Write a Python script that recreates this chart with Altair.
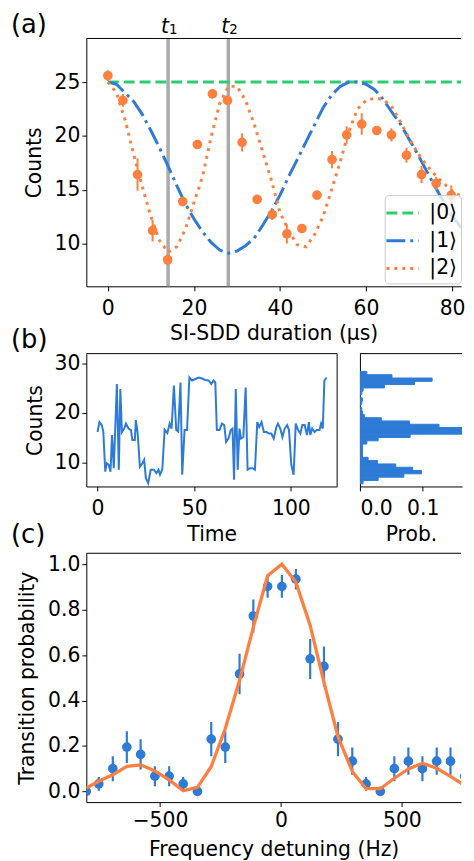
import altair as alt
import pandas as pd

FONT = "DejaVu Sans"
FS = 20.5
LFS = 26
BLUE = "#2d7bd6"
ORANGE = "#ff7f3f"
GREEN = "#2ecc71"
GRAY = "#aaaaaa"

# ---------------- panel (a) data ----------------
states = ["|0⟩", "|1⟩", "|2⟩"]
fit_t = [0, 2, 4, 6, 8, 10, 12, 14, 16, 18, 20, 22, 24, 26, 28, 30, 32, 34, 36, 38, 40, 42,
         44, 46, 48, 50, 52, 54, 56, 58, 60, 62, 64, 66, 68, 70, 72, 74, 76, 78, 80, 82, 84, 86]
fit_s0 = [25.0] * len(fit_t)
fit_s1 = [25.0, 24.8, 24.0, 23.2, 22.0, 20.5, 18.9, 17.2, 15.4, 13.7, 12.3, 11.1, 10.1, 9.4, 9.1,
          9.3, 9.8, 10.5, 11.7, 13.0, 14.5, 16.2, 17.8, 19.4, 21.0, 22.6, 23.8, 24.6, 25.0, 25.0,
          24.8, 24.3, 23.4, 22.2, 21.1, 19.7, 18.3, 16.8, 15.3, 13.9, 12.6, 11.5, 10.5, 9.8]
fit_s2 = [25.0, 24.0, 21.5, 18.3, 15.3, 12.5, 10.3, 9.2, 9.7, 11.3, 13.8, 16.2, 19.9, 23.0, 24.6,
          24.6, 23.3, 21.1, 18.5, 15.9, 12.9, 11.2, 9.9, 9.7, 10.8, 12.5, 15.0, 17.6, 20.4, 22.5,
          23.3, 23.5, 23.4, 22.7, 21.3, 19.8, 18.4, 17.3, 16.4, 15.6, 14.9, 14.4, 13.9, 13.3]
meas_t = [0.0, 3.5, 6.9, 10.4, 13.9, 17.4, 20.8, 24.3, 27.8, 31.2, 34.7, 38.2, 41.6, 45.1, 48.6,
          52.1, 55.5, 59.0, 62.5, 65.9, 69.4, 72.9, 76.3, 79.8, 83.3]
meas_y = [25.6, 23.3, 16.4, 11.2, 8.5, 13.9, 19.2, 23.9, 23.3, 19.4, 14.1, 12.7, 10.9, 11.4, 14.5,
          17.8, 20.1, 21.1, 20.5, 20.1, 18.2, 16.4, 15.6, 14.5, 14.8]
meas_err = [0.5, 0.6, 1.5, 1.0, 0.5, 0.4, 0.3, 0.3, 0.3, 0.85, 0.3, 0.5, 0.9, 0.3, 0.3,
            0.8, 0.8, 1.0, 0.3, 0.6, 0.7, 0.8, 0.6, 0.9, 0.7]
pulse_t = [14, 28]
pulse_sym = ["t", "t"]
pulse_sub = ["1", "2"]

# ---------------- panel (b) data ----------------
trace_t = [0, 1, 2.2, 3, 4, 4.8, 5.8, 6.7, 7.5, 8.4, 10, 11, 11.8, 12.6, 13.8, 14.7, 16, 17.3, 18,
           19.3, 19.8, 20.7, 21.9, 23.2, 24.1, 25, 26.2, 27.5, 29.2, 30.4, 31.5, 32.3, 33.5, 34.7,
           36.1, 37.3, 38.3, 39.5, 40.7, 41.7, 42.9, 43.8, 45, 46.3, 47.5, 48.9, 50.6, 52.3, 54,
           55.7, 57.4, 58.8, 60, 60.9, 61.7, 63.1, 64.3, 65.5, 66.5, 67.7, 68.9, 69.8, 70.6, 71.5,
           72.5, 73.4, 74.2, 75.4, 76.6, 77.6, 78.8, 80.1, 81.4, 82.6, 83.6, 84.8, 86, 87.4, 88.7,
           89.9, 91.1, 92.5, 93.3, 94.5, 95.6, 96.8, 98, 99, 100.2, 101.4, 102.5, 103.7, 104.9,
           105.9, 107.1, 108.3, 109.3, 110, 111, 112.2, 113.4, 114.8, 115.6, 116.5, 117.3, 118.5]
trace_c = [16.1, 18.1, 17.5, 16.1, 8.1, 9.8, 9.5, 8.1, 15.5, 8.8, 25.8, 8.5, 24.8, 16.1, 16.8, 17.8,
           16.8, 16.5, 14.5, 14.5, 18.5, 16.1, 9.1, 9.8, 10.5, 6.8, 5.8, 8.5, 8.5, 7.8, 8.5, 7.5,
           8.6, 16.6, 15.9, 17.8, 16.8, 25.5, 16.5, 16.2, 26.1, 7.5, 16.5, 16.5, 27.1, 26.5, 26.8,
           27.1, 26.9, 26.6, 26.5, 25.8, 26.5, 26.1, 16.5, 16.5, 17.8, 17.5, 14.1, 14.8, 16.5, 16.8,
           6.5, 24.8, 8.5, 16.8, 14.8, 15.1, 25.1, 8.5, 8.8, 8.8, 8.5, 18.1, 17.1, 18.1, 16.1, 16.1,
           15.8, 15.8, 14.8, 17.1, 17.8, 16.8, 15.1, 16.8, 17.5, 16.5, 9.5, 7.5, 17.8, 16.5, 15.8,
           17.5, 17.5, 15.5, 18.1, 15.5, 16.8, 16.1, 16.5, 16.5, 17.8, 16.8, 26.5, 27.1]
hist_lo = [5.67, 6.33, 7.0, 7.67, 8.33, 9.0, 9.67, 10.33, 11.0, 11.67, 12.33, 13.0, 13.67, 14.33,
           15.0, 15.67, 16.33, 17.0, 17.67, 18.33, 19.0, 19.67, 20.33, 21.0, 21.67, 22.33, 23.0,
           23.67, 24.33, 25.0, 25.67, 26.33, 27.0, 27.67]
hist_p = [0.005, 0.029, 0.070, 0.098, 0.084, 0.057, 0.028, 0.013, 0.004, 0.004, 0.004, 0.004,
          0.011, 0.029, 0.080, 0.168, 0.172, 0.126, 0.079, 0.034, 0.007, 0.004, 0.003, 0.0, 0.003,
          0.004, 0.0, 0.003, 0.005, 0.039, 0.087, 0.115, 0.051, 0.011]
hist_w = 0.667

# ---------------- panel (c) data ----------------
det_hz = [-805, -753, -695, -637, -580, -521, -462, -404, -345, -288, -230, -171, -114, -55, 4, 62,
          121, 178, 236, 295, 352, 411, 469, 527, 585, 644, 701, 760]
det_p = [0.0, 0.033, 0.1, 0.195, 0.163, 0.067, 0.067, 0.033, 0.0, 0.23, 0.195, 0.517, 0.772, 0.902,
         0.902, 0.934, 0.583, 0.55, 0.23, 0.133, 0.033, 0.0, 0.1, 0.133, 0.1, 0.133, 0.133, 0.067]
det_err = [0.0, 0.03, 0.055, 0.07, 0.067, 0.044, 0.044, 0.03, 0.0, 0.075, 0.07, 0.089, 0.073, 0.05,
           0.05, 0.045, 0.088, 0.088, 0.075, 0.06, 0.03, 0.0, 0.055, 0.06, 0.055, 0.06, 0.06, 0.044]
model_hz = det_hz + [818]
model_p = [0.015, 0.045, 0.073, 0.11, 0.117, 0.09, 0.051, 0.003, 0.018, 0.11, 0.277, 0.489, 0.723,
           0.949, 1.0, 0.92, 0.73, 0.48, 0.241, 0.088, 0.012, 0.012, 0.058, 0.099, 0.124, 0.102,
           0.066, 0.026, 0.0]

# ---------------- frames ----------------
fit_df = pd.DataFrame({
    "t": fit_t * 3,
    "y": fit_s0 + fit_s1 + fit_s2,
    "state": [states[0]] * len(fit_t) + [states[1]] * len(fit_t) + [states[2]] * len(fit_t),
})
meas_df = pd.DataFrame({"t": meas_t, "y": meas_y,
                        "lo": [v - e for v, e in zip(meas_y, meas_err)],
                        "hi": [v + e for v, e in zip(meas_y, meas_err)]})
pulse_df = pd.DataFrame({"t": pulse_t, "sym": pulse_sym, "sub": pulse_sub})
trace_df = pd.DataFrame({"t": trace_t, "c": trace_c})
hist_df = pd.DataFrame({"lo": hist_lo, "hi": [v + hist_w for v in hist_lo], "p": hist_p,
                        "p0": [0.0] * len(hist_p)})
det_df = pd.DataFrame({"f": det_hz, "p": det_p,
                       "lo": [v - e for v, e in zip(det_p, det_err)],
                       "hi": [v + e for v, e in zip(det_p, det_err)]})
model_df = pd.DataFrame({"f": model_hz, "p": model_p})
one = pd.DataFrame({"k": [0]})

# plot areas (the page is 474 px wide with 8 px margins, so panels stop at x = 466)
AW, AH = 378, 250
B1W, B2W, BH = 253, 103, 134
CW, CH = 378, 251
YLP = 2
LABEL_X = -76


def top_border(w):
    return alt.Chart(one).mark_rule(color="black", strokeWidth=1).encode(
        x=alt.value(0), x2=alt.value(w), y=alt.value(0))


def panel_label(txt, dy):
    return alt.Chart(one).mark_text(text=txt, font=FONT, fontSize=LFS, align="left",
                                    baseline="alphabetic", color="black").encode(
        x=alt.value(LABEL_X), y=alt.value(dy))


# ---------------- panel (a) ----------------
xa_scale = alt.Scale(domain=[-5, -5 + AW / 4.341], nice=False, zero=False)
ya_scale = alt.Scale(domain=[6.03, 29.05], nice=False, zero=False)
xa_axis = alt.Axis(values=[0, 20, 40, 60, 80], title="SI-SDD duration (µs)", titleY=53.3,
                   titleBaseline="alphabetic", labelPadding=7.5)
ya_axis = alt.Axis(values=[10, 15, 20, 25], title="Counts", titleX=-46.5,
                   titleBaseline="alphabetic", labelPadding=YLP)


def XA(f="t"):
    return alt.X(f + ":Q", scale=xa_scale, axis=xa_axis)


def YA(f="y"):
    return alt.Y(f + ":Q", scale=ya_scale, axis=ya_axis)


legend_a = alt.Legend(orient="none", legendX=301, legendY=158, title=None, labelFont=FONT,
                      labelFontSize=FS, labelColor="black", symbolType="M-1.3,0L1.3,0",
                      symbolSize=625, symbolStrokeWidth=3, padding=4, rowPadding=3,
                      labelOffset=13, strokeColor="#cccccc",
                      fillColor="rgba(255,255,255,0.8)", cornerRadius=4)

pulses = alt.Chart(pulse_df).mark_rule(color=GRAY, strokeWidth=3.5).encode(x=XA())
pulse_t_txt = alt.Chart(pulse_df).mark_text(font=FONT, fontSize=FS, fontStyle="italic",
                                            align="right", baseline="alphabetic", dx=1,
                                            color="black").encode(
    x=XA(), y=alt.value(-6), text="sym:N")
pulse_sub_txt = alt.Chart(pulse_df).mark_text(font=FONT, fontSize=13.5, align="left",
                                              baseline="alphabetic", dx=1,
                                              color="black").encode(
    x=XA(), y=alt.value(-4.5), text="sub:N")
fits = alt.Chart(fit_df).mark_line(strokeWidth=3, clip=True).encode(
    x=XA(), y=YA(),
    color=alt.Color("state:N", scale=alt.Scale(domain=states, range=[GREEN, BLUE, ORANGE]),
                    legend=legend_a),
    strokeDash=alt.StrokeDash("state:N",
                              scale=alt.Scale(domain=states,
                                              range=[[11, 5], [19, 5, 3, 5], [3, 5]]),
                              legend=legend_a),
)
a_err = alt.Chart(meas_df).mark_rule(color=ORANGE, strokeWidth=2, clip=True).encode(
    x=XA(), y=YA("lo"), y2="hi")
a_pts = alt.Chart(meas_df).mark_circle(color=ORANGE, opacity=1, size=95, clip=True).encode(
    x=XA(), y=YA())

panel_a = alt.layer(pulses, fits, a_err, a_pts, pulse_t_txt, pulse_sub_txt, top_border(AW),
                    panel_label("(a)", -6)).properties(width=AW, height=AH)

# ---------------- panel (b) ----------------
yb_scale = alt.Scale(domain=[5.12, 31.92], nice=False, zero=False)
trace = alt.Chart(trace_df).mark_line(color=BLUE, strokeWidth=2).encode(
    x=alt.X("t:Q", scale=alt.Scale(domain=[-5.8, 123.9], nice=False, zero=False),
            axis=alt.Axis(values=[0, 50, 100], title="Time", titleY=55,
                          titleBaseline="alphabetic", labelPadding=7.5)),
    y=alt.Y("c:Q", scale=yb_scale,
            axis=alt.Axis(values=[10, 20, 30], title="Counts", titleX=-45.5,
                          titleBaseline="alphabetic", labelPadding=YLP)),
)
right_border = alt.Chart(one).mark_rule(color="black", strokeWidth=1).encode(
    x=alt.value(B1W), y=alt.value(0), y2=alt.value(BH))
panel_b1 = alt.layer(trace, top_border(B1W), right_border,
                     panel_label("(b)", -6)).properties(width=B1W, height=BH)

hist = alt.Chart(hist_df).mark_rect(color=BLUE, stroke=BLUE, strokeWidth=1, clip=True).encode(
    x=alt.X("p0:Q", scale=alt.Scale(domain=[0, B2W / 633.3], nice=False, zero=False),
            axis=alt.Axis(values=[0.0, 0.1], format=".1f", title="Prob.", titleY=55,
                          titleBaseline="alphabetic", labelPadding=7.5)),
    x2="p:Q",
    y=alt.Y("lo:Q", scale=yb_scale,
            axis=alt.Axis(labels=False, ticks=False, title=None, domain=True)),
    y2="hi:Q",
)
panel_b2 = alt.layer(hist, top_border(B2W)).properties(width=B2W, height=BH)
panel_b = alt.hconcat(panel_b1, panel_b2, spacing=23, bounds="flush")

# ---------------- panel (c) ----------------
xc_scale = alt.Scale(domain=[-804.5, -804.5 + CW / 0.244], nice=False, zero=False)
yc_scale = alt.Scale(domain=[-0.047, 1.048], nice=False, zero=False)
xc_axis = alt.Axis(values=[-500, 0, 500], title="Frequency detuning (Hz)", titleY=54.3,
                   titleBaseline="alphabetic", labelPadding=4.5)
yc_axis = alt.Axis(values=[0, 0.2, 0.4, 0.6, 0.8, 1.0], format=".1f",
                   title="Transition probability", titleX=-53.7,
                   titleBaseline="alphabetic", labelPadding=YLP)


def XC():
    return alt.X("f:Q", scale=xc_scale, axis=xc_axis)


def YC(f="p"):
    return alt.Y(f + ":Q", scale=yc_scale, axis=yc_axis)


c_err = alt.Chart(det_df).mark_rule(color=BLUE, strokeWidth=2.2, clip=True).encode(
    x=XC(), y=YC("lo"), y2="hi")
c_pts = alt.Chart(det_df).mark_circle(color=BLUE, opacity=1, size=95, clip=True).encode(
    x=XC(), y=YC())
c_model = alt.Chart(model_df).mark_line(color=ORANGE, strokeWidth=3.3, clip=True).encode(
    x=XC(), y=YC())
panel_c = alt.layer(c_err, c_pts, c_model, top_border(CW),
                    panel_label("(c)", -10.4)).properties(width=CW, height=CH)

lower = alt.vconcat(panel_b, panel_c, spacing=-24.6)
chart = alt.vconcat(panel_a, lower, spacing=-17.1).properties(
    padding={"left": 3, "top": 0, "right": 0, "bottom": 0}
).configure_view(stroke=None).configure_axis(
    labelFont=FONT, titleFont=FONT, labelFontSize=FS, titleFontSize=FS,
    labelColor="black", titleColor="black", tickColor="black", domainColor="black",
    tickSize=4.5, tickWidth=1, domainWidth=1, grid=False, titleFontWeight="normal",
)

chart.save("out.html", embed_options={"renderer": "svg", "actions": False})
